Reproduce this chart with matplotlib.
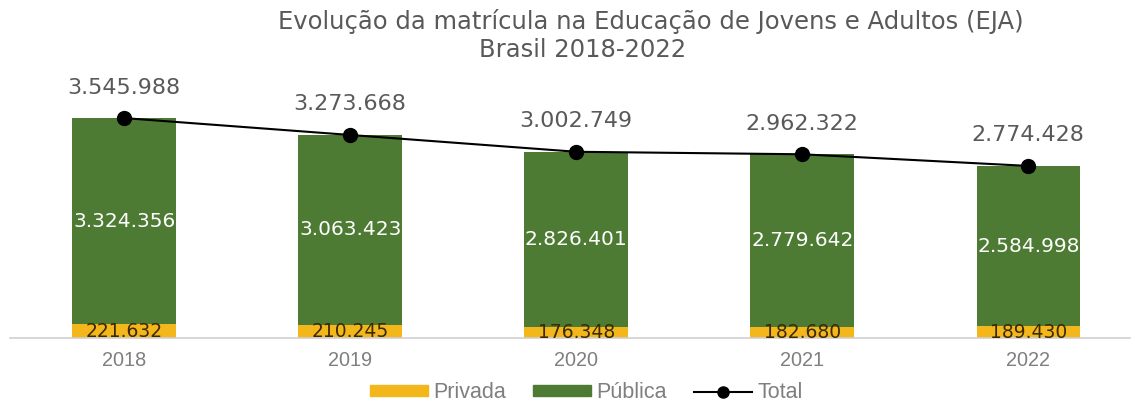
import matplotlib
matplotlib.use("Agg")
import matplotlib.pyplot as plt
from matplotlib.lines import Line2D
from matplotlib.patches import Patch

years = ["2018", "2019", "2020", "2021", "2022"]
privada = [221632, 210245, 176348, 182680, 189430]
publica = [3324356, 3063423, 2826401, 2779642, 2584998]
total = [3545988, 3273668, 3002749, 2962322, 2774428]

def fmt(v):
    return f"{v:,}".replace(",", ".")

YELLOW = "#F4B71B"
GREEN = "#4E7B34"
GRAY = "#595959"

fig = plt.figure(figsize=(11.41, 4.07), dpi=100)
ax = fig.add_axes([10/1141, (407-338)/407, 1120/1141, (338-80)/407])

x = list(range(len(years)))
w = 0.458
ax.bar(x, privada, width=w, color=YELLOW, zorder=2)
ax.bar(x, publica, width=w, bottom=privada, color=GREEN, zorder=2)
ax.plot(x, total, color="black", lw=1.5, marker="o", markersize=10, zorder=3)

for i in x:
    ax.text(i, privada[i] / 2, fmt(privada[i]), ha="center", va="center",
            fontsize=13.5, color="#3b2a05", family="DejaVu Sans", zorder=4)
    ax.text(i, privada[i] + publica[i] / 2, fmt(publica[i]), ha="center", va="center",
            fontsize=14.5, color="white", family="DejaVu Sans", zorder=4)
    ax.annotate(fmt(total[i]), (i, total[i]), xytext=(0, 22), textcoords="offset points",
                ha="center", va="center", fontsize=16, color=GRAY,
                family="DejaVu Sans", zorder=4)

ax.set_xlim(-0.505, 4.45)
ax.set_ylim(0, 4.16e6)
ax.set_xticks(x)
ax.set_xticklabels(years, fontsize=14.3, color="#7f7f7f", family="Liberation Sans")
ax.tick_params(axis="x", length=0, pad=9)
ax.set_yticks([])
for s in ["top", "right", "left"]:
    ax.spines[s].set_visible(False)
ax.spines["bottom"].set_color("#d0d0d0")
ax.spines["bottom"].set_linewidth(1.2)

fig.text(651/1141, 1 - 22/407, "Evolução da matrícula na Educação de Jovens e Adultos (EJA)",
         ha="center", va="center", fontsize=17.5, color=GRAY, family="DejaVu Sans")
fig.text(583/1141, 1 - 50/407, "Brasil 2018-2022",
         ha="center", va="center", fontsize=17.5, color=GRAY, family="DejaVu Sans")

handles = [Patch(color=YELLOW, label="Privada"),
           Patch(color=GREEN, label="Pública"),
           Line2D([], [], color="black", lw=1.5, marker="o", markersize=8, label="Total")]
fig.legend(handles=handles, loc="center", bbox_to_anchor=(586/1141, 1 - 393/407), ncol=3,
           frameon=False, prop={"family": "Liberation Sans", "size": 15.5},
           labelcolor="#7f7f7f", handlelength=2.7, handleheight=0.4, columnspacing=1.25,
           handletextpad=0.25)

fig.savefig("out.png", dpi=100)
